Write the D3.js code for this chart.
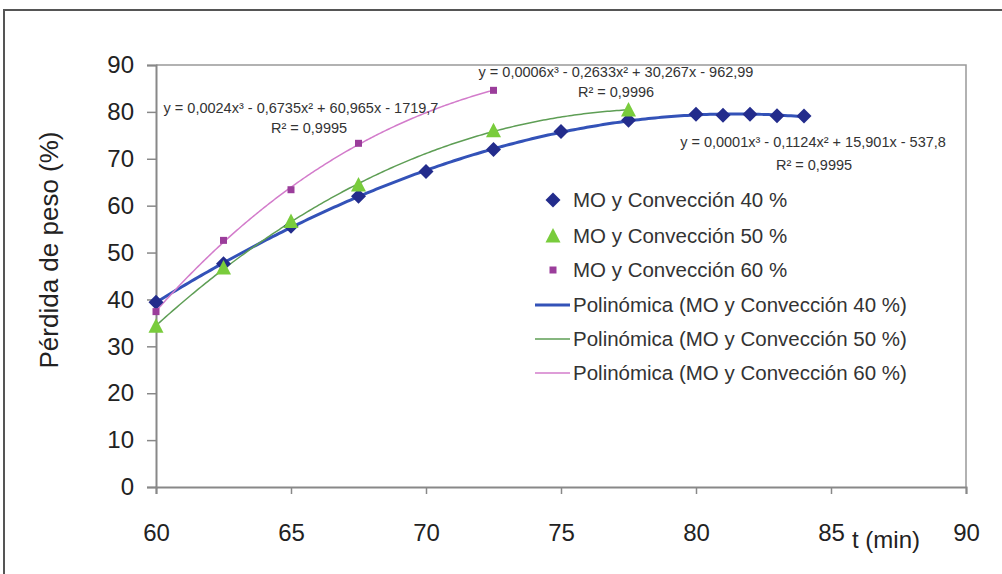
<!DOCTYPE html>
<html><head><meta charset="utf-8">
<script src="https://cdn.jsdelivr.net/npm/d3@7/dist/d3.min.js"></script>
<style>body{margin:0;background:#fff}svg text{font-family:"Liberation Sans",Arial,sans-serif}</style>
</head><body><svg id="c" width="1002" height="574"></svg>
<script>
const xTicks = [60,65,70,75,80,85,90];
const yTicks = [0,10,20,30,40,50,60,70,80,90];
const t40 = [60,62.5,65,67.5,70,72.5,75,77.5,80,81,82,83,84];
const v40 = [39.4,47.6,55.6,62,67.3,72,75.8,78.2,79.5,79.3,79.5,79.2,79.1];
const t50 = [60,62.5,65,67.5,72.5,77.5];
const v50 = [34.3,46.7,56.6,64.4,76,80.4];
const t60 = [60,62.5,65,67.5,72.5];
const v60 = [37.4,52.6,63.4,73.3,84.6];
const names = ["MO y Convección 40 %","MO y Convección 50 %","MO y Convección 60 %"];
const trendNames = ["Polinómica (MO y Convección 40 %)","Polinómica (MO y Convección 50 %)","Polinómica (MO y Convección 60 %)"];
const eqs = [
  ["y = 0,0001x³ - 0,1124x² + 15,901x - 537,8","R² = 0,9995"],
  ["y = 0,0006x³ - 0,2633x² + 30,267x - 962,99","R² = 0,9996"],
  ["y = 0,0024x³ - 0,6735x² + 60,965x - 1719,7","R² = 0,9995"]
];

const svg = d3.select("#c");
const x = d3.scaleLinear().domain([60,90]).range([156,966]);
const y = d3.scaleLinear().domain([0,90]).range([487,65]);

svg.append("path").attr("d","M4,574 V10 H1002").attr("fill","none").attr("stroke","#555").attr("stroke-width",2);
svg.append("path").attr("d",`M${x(60)},${y(90)} H${x(90)} V${y(0)}`).attr("fill","none").attr("stroke","#999").attr("stroke-width",1.5);

const gx = svg.append("g").attr("transform",`translate(0,${y(0)})`)
  .call(d3.axisBottom(x).tickValues(xTicks).tickSize(7).tickPadding(30).tickFormat(d3.format("d")));
const gy = svg.append("g").attr("transform",`translate(${x(60)},0)`)
  .call(d3.axisLeft(y).tickValues(yTicks).tickSize(9).tickPadding(13).tickFormat(d3.format("d")));
[gx,gy].forEach(g=>{
  g.select(".domain").attr("stroke","#888").attr("stroke-width",2);
  g.selectAll(".tick line").attr("stroke","#888").attr("stroke-width",1.5);
  g.selectAll(".tick text").attr("fill","#222").style("font-size","24px").style("font-family","'Liberation Sans',Arial,sans-serif");
});

svg.append("text").attr("transform","translate(58,250) rotate(-90)").attr("text-anchor","middle")
  .attr("fill","#222").style("font-size","26px").text("Pérdida de peso (%)");
svg.append("text").attr("x",852).attr("y",548).attr("fill","#222").style("font-size","24px").text("t (min)");

function fit(ts, vs){
  const m = d3.mean(ts);
  const n=4, A=[...Array(n)].map(()=>Array(n+1).fill(0));
  ts.forEach((t,i)=>{const u=t-m; const p=[1,u,u*u,u*u*u];
    for(let r=0;r<n;r++){for(let c=0;c<n;c++)A[r][c]+=p[r]*p[c];A[r][n]+=p[r]*vs[i];}});
  for(let i=0;i<n;i++){let mx=i;for(let k=i+1;k<n;k++)if(Math.abs(A[k][i])>Math.abs(A[mx][i]))mx=k;
    [A[i],A[mx]]=[A[mx],A[i]];
    for(let k=0;k<n;k++){if(k===i)continue;const f=A[k][i]/A[i][i];for(let c=i;c<=n;c++)A[k][c]-=f*A[i][c];}}
  const co=A.map((r,i)=>r[n]/r[i]);
  return t=>{const u=t-m;return co[0]+co[1]*u+co[2]*u*u+co[3]*u*u*u;};
}
const series = [
  {t:t40,v:v40,line:"#3352B8",lw:3,mk:"#232C8C",shape:"diamond"},
  {t:t50,v:v50,line:"#5E9E55",lw:1.5,mk:"#79CC3C",shape:"triangle"},
  {t:t60,v:v60,line:"#D37CCB",lw:1.5,mk:"#9B3D9B",shape:"square"}
];
const line = d3.line().x(d=>x(d[0])).y(d=>y(d[1]));
series.forEach(s=>{
  const f=fit(s.t,s.v); const t0=s.t[0], t1=s.t[s.t.length-1];
  const pts=d3.range(0,201).map(i=>{const t=t0+(t1-t0)*i/200;return [t,f(t)];});
  svg.append("path").datum(pts).attr("d",line).attr("fill","none").attr("stroke",s.line).attr("stroke-width",s.lw);
});
function marker(g,shape,color,cx,cy){
  let d;
  if(shape==="diamond") d="M0,-7.5L7.5,0L0,7.5L-7.5,0Z";
  else if(shape==="triangle") d="M0,-8L7.5,6.5L-7.5,6.5Z";
  else d="M-3.5,-3.5H3.5V3.5H-3.5Z";
  g.append("path").attr("d",d).attr("transform",`translate(${cx},${cy})`).attr("fill",color);
}
const mg=svg.append("g");
series.forEach(s=>s.t.forEach((t,i)=>marker(mg,s.shape,s.mk,x(t),y(s.v[i]))));

const eg=svg.append("g").attr("fill","#333").style("font-size","14.5px");
[[813,147,814,170],[616,77,616,97],[301,113,309,133]].forEach((p,i)=>{
  eg.append("text").attr("x",p[0]).attr("y",p[1]).attr("text-anchor","middle").text(eqs[i][0]);
  eg.append("text").attr("x",p[2]).attr("y",p[3]).attr("text-anchor","middle").text(eqs[i][1]);
});

const lg=svg.append("g");
const rows=[200,236,270,305,339,373];
series.forEach((s,i)=>{
  marker(lg,s.shape,s.mk,553,rows[i]);
  lg.append("text").attr("x",573).attr("y",rows[i]+7).attr("fill","#333").style("font-size","20.5px").text(names[i]);
  lg.append("line").attr("x1",535).attr("x2",570).attr("y1",rows[i+3]).attr("y2",rows[i+3]).attr("stroke",s.line).attr("stroke-width",s.lw);
  lg.append("text").attr("x",573).attr("y",rows[i+3]+7).attr("fill","#333").style("font-size","20.5px").text(trendNames[i]);
});
</script></body></html>
